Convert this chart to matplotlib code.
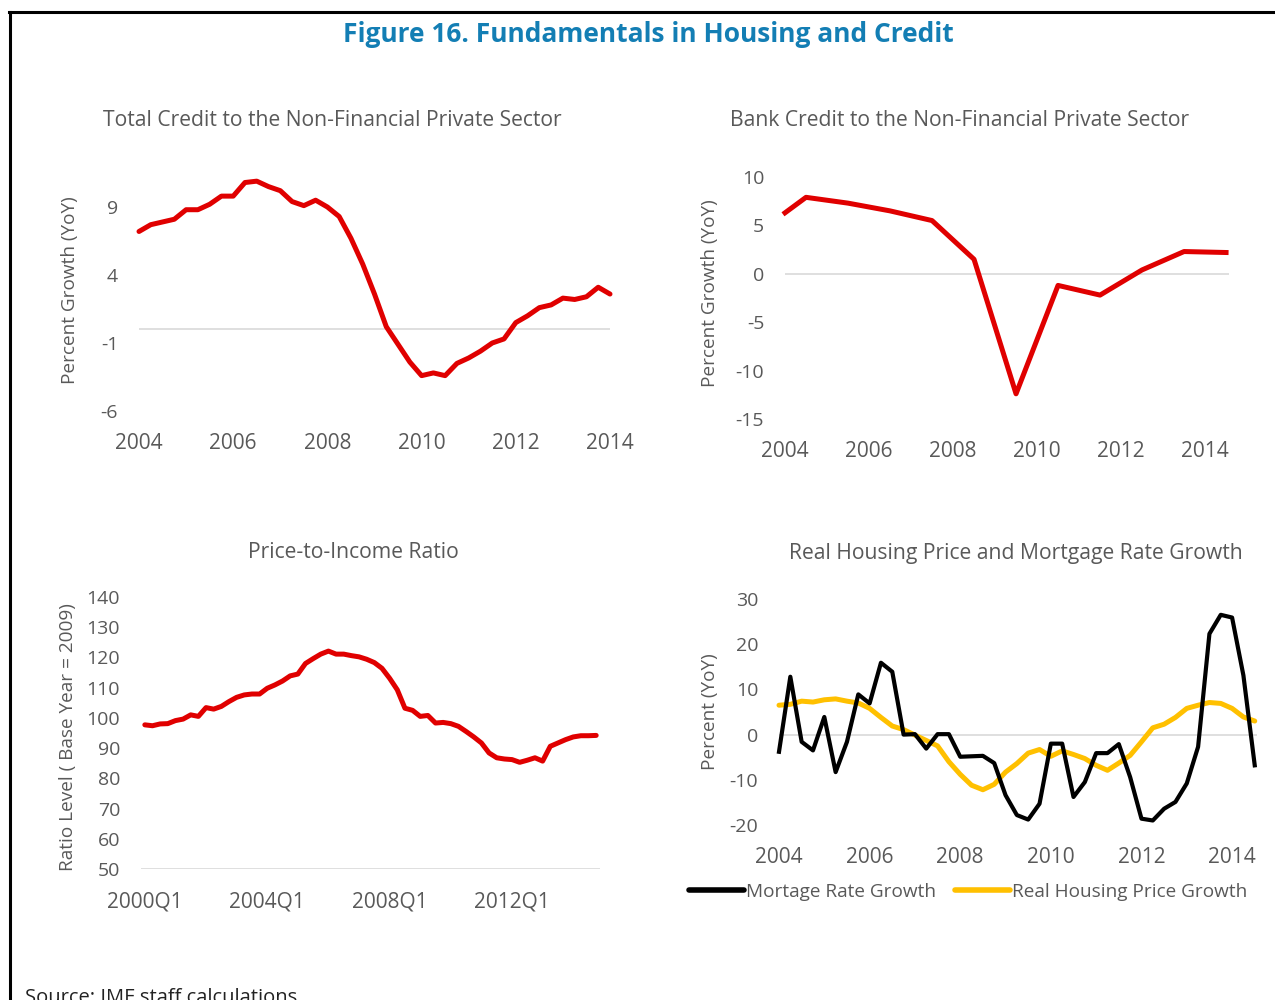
import numpy as np
import matplotlib.pyplot as plt
from matplotlib.lines import Line2D

plt.rcParams['font.family'] = ['Open Sans', 'DejaVu Sans']
plt.rcParams['axes.unicode_minus'] = False

# data
# total credit, quarterly 2004Q1-2014Q1
tc_vals = [7.2, 7.7, 7.9, 8.1, 8.8, 8.8, 9.2, 9.8, 9.8, 10.8, 10.9, 10.5, 10.2, 9.4,
           9.1, 9.5, 9.0, 8.3, 6.7, 4.8, 2.6, 0.2, -1.1, -2.4, -3.4, -3.2, -3.4, -2.5,
           -2.1, -1.6, -1.0, -0.7, 0.5, 1.0, 1.6, 1.8, 2.3, 2.2, 2.4, 3.1, 2.6]
tc_x = 2004 + np.arange(len(tc_vals)) / 4

# bank credit, annual (mid-year)
bank_x = [2004.0, 2004.5, 2005.5, 2006.5, 2007.5, 2008.5, 2009.5, 2010.5, 2011.5,
          2012.5, 2013.5, 2014.5]
bank_vals = [6.3, 7.9, 7.3, 6.5, 5.5, 1.5, -12.4, -1.2, -2.2, 0.4, 2.3, 2.2]

# price to income, quarterly from 2000Q1
pti_vals = [97.7, 97.4, 98.0, 98.1, 99.1, 99.6, 101.0, 100.5, 103.4, 102.9, 103.8,
            105.4, 106.8, 107.6, 107.9, 107.9, 109.8, 110.9, 112.2, 113.9, 114.5,
            118.0, 119.6, 121.1, 122.1, 121.1, 121.1, 120.6, 120.2, 119.4, 118.3,
            116.4, 113.1, 109.3, 103.2, 102.5, 100.5, 100.8, 98.3, 98.5, 98.1, 97.2,
            95.5, 93.7, 91.7, 88.4, 86.8, 86.4, 86.2, 85.3, 86.0, 86.8, 85.7, 90.6,
            91.7, 92.8, 93.7, 94.1, 94.1, 94.2]
pti_ticks = [0, 16, 32, 48]
pti_labels = ['2000Q1', '2004Q1', '2008Q1', '2012Q1']

# mortgage rate / real housing price growth, quarterly 2004Q1-2014Q3
mort_vals = [-3.8, 12.8, -1.6, -3.5, 3.9, -8.3, -1.6, 8.9, 6.9, 15.9, 13.9, 0.0, 0.1,
             -3.1, 0.1, 0.1, -4.9, -4.8, -4.7, -6.3, -13.4, -17.8, -18.8, -15.3, -2.0,
             -2.0, -13.8, -10.5, -4.1, -4.1, -2.1, -9.4, -18.6, -19.0, -16.4, -14.9,
             -10.8, -2.7, 22.3, 26.5, 25.9, 13.1, -6.8]
house_vals = [6.5, 6.7, 7.4, 7.2, 7.7, 7.9, 7.4, 7.0, 5.8, 3.8, 1.9, 1.1, -0.1, -1.3,
              -2.5, -6.0, -8.8, -11.2, -12.2, -11.0, -8.3, -6.4, -4.1, -3.3, -4.8, -3.6,
              -4.4, -5.3, -6.8, -7.9, -6.3, -4.6, -1.6, 1.5, 2.3, 3.8, 5.8, 6.5, 7.1,
              6.9, 5.8, 3.9, 3.0]
q_x = 2004 + np.arange(len(mort_vals)) / 4

RED = '#E00000'
GOLD = '#FFC000'
TXT = '#595959'
GRID = '#D9D9D9'
W, H = 1275, 1000

fig = plt.figure(figsize=(12.75, 10), dpi=100)


def px_axes(x0, x1, y0, y1):
    return fig.add_axes([x0 / W, 1 - y1 / H, (x1 - x0) / W, (y1 - y0) / H])


def style(ax):
    for s in ax.spines.values():
        s.set_visible(False)
    ax.tick_params(length=0, labelcolor=TXT)
    ax.tick_params(axis='y', labelsize=14, pad=15)
    ax.tick_params(axis='x', labelsize=15, pad=16)


def ftext(x, y, s, **kw):
    fig.text(x / W, 1 - y / H, s, **kw)


# panel 1
ax1 = px_axes(139, 610, 173, 411)
style(ax1)
ax1.axhline(0, color=GRID, lw=1.2, zorder=1)
ax1.plot(tc_x, tc_vals, color=RED, lw=3.6, clip_on=False, solid_capstyle='round', zorder=3)
ax1.set_xlim(2004, 2014)
ax1.set_ylim(-6, 11.5)
ax1.set_yticks([-6, -1, 4, 9])
ax1.set_xticks([2004, 2006, 2008, 2010, 2012, 2014])
ftext(332, 120, 'Total Credit to the Non-Financial Private Sector', ha='center', va='center',
      fontsize=15.2, color=TXT)
ftext(70, 290, 'Percent Growth (YoY)', rotation=90, ha='center', va='center',
      fontsize=13.7, color=TXT)

# panel 2
ax2 = px_axes(785, 1229, 177, 419)
style(ax2)
ax2.axhline(0, color=GRID, lw=1.2, zorder=1)
ax2.plot(bank_x, bank_vals, color=RED, lw=3.6, clip_on=False, zorder=3)
ax2.set_xlim(2004, 2014.57)
ax2.set_ylim(-15, 10)
ax2.set_yticks([-15, -10, -5, 0, 5, 10])
ax2.set_xticks([2004, 2006, 2008, 2010, 2012, 2014])
ftext(960, 120, 'Bank Credit to the Non-Financial Private Sector', ha='center', va='center',
      fontsize=15.2, color=TXT)
ftext(710, 293, 'Percent Growth (YoY)', rotation=90, ha='center', va='center',
      fontsize=13.7, color=TXT)

# panel 3
ax3 = px_axes(141, 600, 597, 869)
style(ax3)
ax3.axhline(50, color=GRID, lw=1.2, zorder=1)
ax3.plot(np.arange(len(pti_vals)), pti_vals, color=RED, lw=3.6, clip_on=False,
         solid_capstyle='round', zorder=3)
ax3.set_xlim(-0.5, len(pti_vals) - 0.5)
ax3.set_ylim(50, 140)
ax3.set_yticks(np.arange(50, 141, 10))
ax3.set_xticks(pti_ticks)
ax3.set_xticklabels(pti_labels)
ftext(353, 553, 'Price-to-Income Ratio', ha='center', va='center', fontsize=15.2, color=TXT)
ftext(68, 737, 'Ratio Level ( Base Year = 2009)', rotation=90, ha='center', va='center',
      fontsize=13.7, color=TXT)

# panel 4
ax4 = px_axes(779, 1257, 599, 825)
style(ax4)
ax4.axhline(0, color=GRID, lw=1.2, zorder=1)
ax4.plot(q_x, mort_vals, color='black', lw=3.0, clip_on=False, label='Mortage Rate Growth',
         zorder=3)
ax4.plot(q_x, house_vals, color=GOLD, lw=3.6, clip_on=False,
         label='Real Housing Price Growth', solid_capstyle='round', zorder=2)
ax4.set_xlim(2004, 2014.55)
ax4.set_ylim(-20, 30)
ax4.set_yticks([-20, -10, 0, 10, 20, 30])
ax4.set_xticks([2004, 2006, 2008, 2010, 2012, 2014])
ftext(1016, 553, 'Real Housing Price and Mortgage Rate Growth', ha='center', va='center',
      fontsize=15.2, color=TXT)
ftext(710, 712, 'Percent (YoY)', rotation=90, ha='center', va='center', fontsize=13.7,
      color=TXT)
leg = ax4.legend(loc='center', bbox_to_anchor=(968 / W, 1 - 892 / H),
                 bbox_transform=fig.transFigure, ncol=2, frameon=False, fontsize=13.7,
                 handlelength=2.9, handletextpad=0.1, columnspacing=1.0)
for t in leg.get_texts():
    t.set_color(TXT)
for h in leg.legend_handles:
    h.set_linewidth(4)
    h.set_solid_capstyle('round')

# titles, source, frame
ftext(648, 34, 'Figure 16. Fundamentals in Housing and Credit', ha='center', va='center',
      fontsize=19, fontweight='bold', color='#137EB4')
ftext(25, 1003, 'Source: IMF staff calculations', ha='left', va='baseline', fontsize=14.5,
      color='#222222')
fig.add_artist(Line2D([9 / W, 1], [1 - 12 / H, 1 - 12 / H], color='black', lw=2.2,
                      transform=fig.transFigure))
fig.add_artist(Line2D([10 / W, 10 / W], [1 - 12 / H, 0], color='black', lw=2.2,
                      transform=fig.transFigure))

fig.savefig('out.png', dpi=100)
